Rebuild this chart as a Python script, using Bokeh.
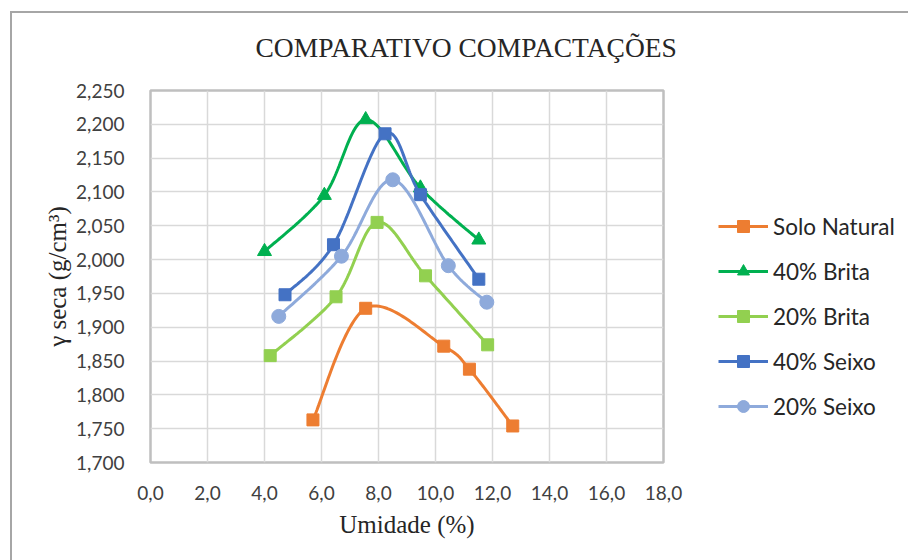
import numpy as np
from bokeh.plotting import figure
from bokeh.models import Range1d, FixedTicker, Legend, LegendItem, Title
from bokeh.embed import file_html
from bokeh.resources import INLINE

# Compaction curves: moisture content (%) vs dry unit weight (g/cm3)
solo_natural_x = [5.7, 7.55, 10.29, 11.19, 12.71]
solo_natural_y = [1.763, 1.928, 1.872, 1.838, 1.754]

brita40_x = [4.0, 6.1, 7.55, 9.47, 11.52]
brita40_y = [2.012, 2.095, 2.207, 2.106, 2.029]

brita20_x = [4.2, 6.51, 7.95, 9.65, 11.83]
brita20_y = [1.858, 1.945, 2.055, 1.976, 1.874]

seixo40_x = [4.72, 6.42, 8.23, 9.47, 11.52]
seixo40_y = [1.948, 2.022, 2.186, 2.096, 1.971]

seixo20_x = [4.5, 6.7, 8.5, 10.45, 11.8]
seixo20_y = [1.916, 2.005, 2.118, 1.991, 1.937]

x_ticks = [0, 2, 4, 6, 8, 10, 12, 14, 16, 18]
x_tick_labels = ["0,0", "2,0", "4,0", "6,0", "8,0", "10,0", "12,0", "14,0", "16,0", "18,0"]
y_ticks = [1.70, 1.75, 1.80, 1.85, 1.90, 1.95, 2.00, 2.05, 2.10, 2.15, 2.20, 2.25]
y_tick_labels = ["1,700", "1,750", "1,800", "1,850", "1,900", "1,950",
                 "2,000", "2,050", "2,100", "2,150", "2,200", "2,250"]


def smooth(xs, ys, steps=40):
    """Catmull-Rom style Bezier smoothing through every point."""
    pts = np.column_stack([xs, ys]).astype(float)
    n = len(pts)
    out = []
    for i in range(n - 1):
        p0 = pts[max(i - 1, 0)]
        p1 = pts[i]
        p2 = pts[i + 1]
        p3 = pts[min(i + 2, n - 1)]
        c1 = p1 + (p2 - p0) / 6.0
        c2 = p2 - (p3 - p1) / 6.0
        t = np.linspace(0, 1, steps)[:, None]
        seg = ((1 - t) ** 3) * p1 + 3 * ((1 - t) ** 2) * t * c1 + 3 * (1 - t) * t ** 2 * c2 + t ** 3 * p2
        out.append(seg if i == 0 else seg[1:])
    arr = np.vstack(out)
    return arr[:, 0], arr[:, 1]


p = figure(width=908, height=560, output_backend="svg", toolbar_location=None,
           x_range=Range1d(0, 18), y_range=Range1d(1.70, 2.25),
           min_border_left=150, min_border_right=245,
           min_border_top=90, min_border_bottom=98)
p.frame_width = 513
p.frame_height = 372

# chart-area border (left and top edges) painted behind a transparent canvas
p.border_fill_color = None
p.background_fill_color = "white"
p.styles = {
    "background": "linear-gradient(#a6a6a6, #a6a6a6) 10px 11px / 2px 100% no-repeat, "
                  "linear-gradient(#a6a6a6, #a6a6a6) 10px 11px / 100% 2px no-repeat, white"
}

p.title = Title(text="COMPARATIVO COMPACTAÇÕES", align="left", offset=105,
                text_font="Liberation Serif", text_font_size="27.5px",
                text_font_style="normal", text_color="#262626", standoff=55)

p.outline_line_color = "#bfbfbf"
p.outline_line_width = 2.5

for ax in (p.xaxis, p.yaxis):
    ax.axis_line_color = None
    ax.major_tick_line_color = None
    ax.minor_tick_line_color = None
    ax.major_label_text_font = "Lato"
    ax.major_label_text_font_size = "19px"
    ax.major_label_text_color = "#404040"
    ax.axis_label_text_font = "Liberation Serif"
    ax.axis_label_text_font_size = "25px"
    ax.axis_label_text_font_style = "normal"
    ax.axis_label_text_color = "#262626"

p.xaxis.ticker = FixedTicker(ticks=x_ticks)
p.xaxis.major_label_overrides = dict(zip(x_ticks, x_tick_labels))
p.yaxis.ticker = FixedTicker(ticks=y_ticks)
p.yaxis.major_label_overrides = dict(zip(y_ticks, y_tick_labels))
p.xaxis.major_label_standoff = 17
p.yaxis.major_label_standoff = 20
p.xaxis.axis_label = "Umidade (%)"
p.yaxis.axis_label = "γ seca (g/cm³)"
p.xaxis.axis_label_standoff = 8
p.yaxis.axis_label_standoff = 2

p.xgrid.grid_line_color = "#d9d9d9"
p.ygrid.grid_line_color = "#d9d9d9"
p.xgrid.grid_line_width = 1.5
p.ygrid.grid_line_width = 1.5

series = [
    ("Solo Natural", solo_natural_x, solo_natural_y, "#ed7d31", "square", 12),
    ("40% Brita", brita40_x, brita40_y, "#00b050", "triangle", 14),
    ("20% Brita", brita20_x, brita20_y, "#92d050", "square", 12),
    ("40% Seixo", seixo40_x, seixo40_y, "#4472c4", "square", 12),
    ("20% Seixo", seixo20_x, seixo20_y, "#8eaadb", "circle", 14),
]

items = []
for name, xs, ys, color, marker, size in series:
    sx, sy = smooth(xs, ys)
    ln = p.line(sx, sy, line_color=color, line_width=3)
    sc = p.scatter(xs, ys, marker=marker, size=size, fill_color=color, line_color=color)
    items.append(LegendItem(label=name, renderers=[ln, sc]))

legend = Legend(items=items, location=(55, 41), orientation="vertical",
                border_line_color=None, background_fill_alpha=0,
                padding=0, margin=0, spacing=15, glyph_width=50, glyph_height=30,
                label_height=30, label_standoff=5,
                label_text_font="Lato", label_text_font_size="22.5px",
                label_text_color="#262626")
p.add_layout(legend, "right")

open("out.html", "w").write(file_html(p, INLINE))
